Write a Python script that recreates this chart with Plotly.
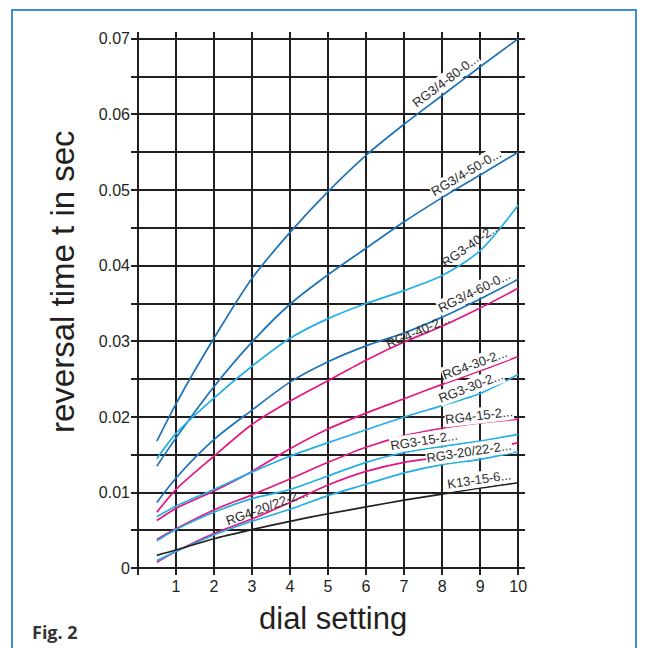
import numpy as np
import plotly.graph_objects as go

# Dial settings at which each reversal-time curve is sampled
dial = [0.5, 1, 2, 3, 4, 5, 6, 7, 8, 9, 10]

# Reversal time t in seconds for each relay type
rg34_80 = [0.0168, 0.0217, 0.0304, 0.0383, 0.0444, 0.0498, 0.0546, 0.0587, 0.0625, 0.0663, 0.0700]
rg34_50 = [0.0135, 0.0172, 0.0240, 0.0299, 0.0349, 0.0388, 0.0423, 0.0458, 0.0490, 0.0520, 0.0550]
rg3_40 = [0.0145, 0.0178, 0.0225, 0.0267, 0.0304, 0.0330, 0.0350, 0.0367, 0.0387, 0.0420, 0.0480]
rg34_60 = [0.0087, 0.0119, 0.0170, 0.0209, 0.0246, 0.0273, 0.0294, 0.0311, 0.0332, 0.0356, 0.0382]
rg4_40 = [0.0074, 0.0104, 0.0148, 0.0190, 0.0221, 0.0248, 0.0275, 0.0299, 0.0320, 0.0344, 0.0370]
rg4_30 = [0.0063, 0.0079, 0.0102, 0.0128, 0.0158, 0.0184, 0.0205, 0.0224, 0.0243, 0.0261, 0.0280]
rg3_30 = [0.0068, 0.0082, 0.0104, 0.0127, 0.0148, 0.0166, 0.0183, 0.0200, 0.0215, 0.0231, 0.0256]
rg4_15 = [0.0038, 0.0052, 0.0077, 0.0097, 0.0118, 0.0140, 0.0160, 0.0175, 0.0185, 0.0192, 0.0197]
rg3_15 = [0.0036, 0.0051, 0.0074, 0.0092, 0.0104, 0.0122, 0.0140, 0.0153, 0.0161, 0.0168, 0.0177]
rg4_2022 = [0.0008, 0.0022, 0.0046, 0.0065, 0.0087, 0.0110, 0.0128, 0.0140, 0.0147, 0.0155, 0.0166]
rg3_2022 = [0.0010, 0.0022, 0.0044, 0.0062, 0.0078, 0.0096, 0.0111, 0.0126, 0.0137, 0.0144, 0.0154]
k13_15 = [0.0017, 0.0024, 0.0039, 0.0051, 0.0062, 0.0072, 0.0081, 0.0090, 0.0098, 0.0106, 0.0113]

# Curve labels
labels = ["RG3/4-80-0...", "RG3/4-50-0...", "RG3-40-2...", "RG3/4-60-0...",
          "RG4-40-2...", "RG4-30-2...", "RG3-30-2...", "RG4-15-2...",
          "RG3-15-2...", "RG4-20/22-2...", "RG3-20/22-2...", "K13-15-6..."]

# Axis ticks
x_ticks = [0, 1, 2, 3, 4, 5, 6, 7, 8, 9, 10]
x_ticktext = ["", "1", "2", "3", "4", "5", "6", "7", "8", "9", "10"]
y_ticks = [0, 0.005, 0.01, 0.015, 0.02, 0.025, 0.03, 0.035, 0.04, 0.045, 0.05, 0.055, 0.06, 0.065, 0.07]
y_ticktext = ["0", "", "0.01", "", "0.02", "", "0.03", "", "0.04", "", "0.05", "", "0.06", "", "0.07"]

DARK_BLUE = "#1b72b8"
LIGHT_BLUE = "#22aee6"
MAGENTA = "#e5177f"
BLACK = "#231f20"
FONT = "Liberation Sans, Arial, sans-serif"

# series, colour, label text, dial position of the label, label offset (px),
# fixed label angle (None = follow the curve), white label background
curves = [
    (rg34_80, DARK_BLUE, labels[0], 8.25, 10, None, True),
    (rg34_50, DARK_BLUE, labels[1], 8.75, 9, None, True),
    (rg3_40, LIGHT_BLUE, labels[2], 8.9, 10, 35, False),
    (rg34_60, DARK_BLUE, labels[3], 8.95, 9, None, True),
    (rg4_40, MAGENTA, labels[4], 7.4, 4.5, None, False),
    (rg4_30, MAGENTA, labels[5], 8.95, 8, None, True),
    (rg3_30, LIGHT_BLUE, labels[6], 8.85, 9, None, True),
    (rg4_15, MAGENTA, labels[7], 9.0, 8, None, True),
    (rg3_15, LIGHT_BLUE, labels[8], 7.55, 9, None, True),
    (rg4_2022, MAGENTA, labels[9], 3.45, 5, 20, False),
    (rg3_2022, LIGHT_BLUE, labels[10], 8.75, 9, None, True),
    (k13_15, BLACK, labels[11], 9.0, 9, None, True),
]

W, H = 646, 648
M_L, M_R, M_T, M_B = 131, 121, 32, 73
X_RANGE = [-0.18, 10.18]
Y_RANGE = [-0.0009, 0.0709]
plot_w = W - M_L - M_R
plot_h = H - M_T - M_B
px_x = plot_w / (X_RANGE[1] - X_RANGE[0])
px_y = plot_h / (Y_RANGE[1] - Y_RANGE[0])


def px_to_paper(px, py):
    return (px - M_L) / plot_w, (H - M_B - py) / plot_h


fig = go.Figure()
annotations = []
for vals, color, text, lx, off, fixed_ang, bg in curves:
    fig.add_trace(go.Scatter(
        x=dial, y=vals, mode="lines",
        line=dict(color=color, width=1.7, shape="spline", smoothing=0.8),
        hoverinfo="skip", showlegend=False,
    ))
    ly = float(np.interp(lx, dial, vals))
    if fixed_ang is None:
        xa, xb = lx - 0.6, min(lx + 0.6, 10)
        dy = (float(np.interp(xb, dial, vals)) - float(np.interp(xa, dial, vals))) * px_y
        ang = np.arctan2(dy, (xb - xa) * px_x)
    else:
        ang = np.radians(fixed_ang)
    annotations.append(dict(
        x=lx, y=ly, xref="x", yref="y", text=text, showarrow=False,
        xanchor="center", yanchor="middle",
        textangle=-np.degrees(ang),
        xshift=-np.sin(ang) * off, yshift=np.cos(ang) * off,
        font=dict(family=FONT, size=13, color="#2b2b2b"),
        bgcolor="white" if bg else "rgba(0,0,0,0)", borderpad=0,
    ))

yx, yy = px_to_paper(62, 282)
xx, xy = px_to_paper(333, 618)
fx, fy = px_to_paper(30, 632)
annotations += [
    dict(x=yx, y=yy, xref="paper", yref="paper", xanchor="center", yanchor="middle",
         text="reversal time t in sec", textangle=-90, showarrow=False,
         font=dict(family=FONT, size=33, color="#231f20")),
    dict(x=xx, y=xy, xref="paper", yref="paper", xanchor="center", yanchor="middle",
         text="dial setting", showarrow=False,
         font=dict(family=FONT, size=31, color="#231f20")),
    dict(x=fx, y=fy, xref="paper", yref="paper", xanchor="left", yanchor="middle",
         text="<b>Fig. 2</b>", showarrow=False,
         font=dict(family="Open Sans, sans-serif", size=18, color="#333333")),
]

# outer frame
bx0, by0 = px_to_paper(12, 670)
bx1, by1 = px_to_paper(636, 10)
fig.add_shape(type="rect", xref="paper", yref="paper", x0=bx0, x1=bx1, y0=by0, y1=by1,
              line=dict(color="#3d8fd1", width=2), fillcolor="rgba(0,0,0,0)", layer="below")

axis_common = dict(showgrid=True, gridcolor="#231f20", gridwidth=1.5, zeroline=False,
                   showline=False, ticks="", tickfont=dict(family=FONT, size=16, color="#231f20"))

fig.update_layout(
    width=W, height=H,
    margin=dict(l=M_L, r=M_R, t=M_T, b=M_B),
    paper_bgcolor="white", plot_bgcolor="white",
    xaxis=dict(range=X_RANGE, tickvals=x_ticks, ticktext=x_ticktext, **axis_common),
    yaxis=dict(range=Y_RANGE, tickvals=y_ticks, ticktext=y_ticktext, **axis_common),
    annotations=annotations,
)

fig.write_html("out.html")
